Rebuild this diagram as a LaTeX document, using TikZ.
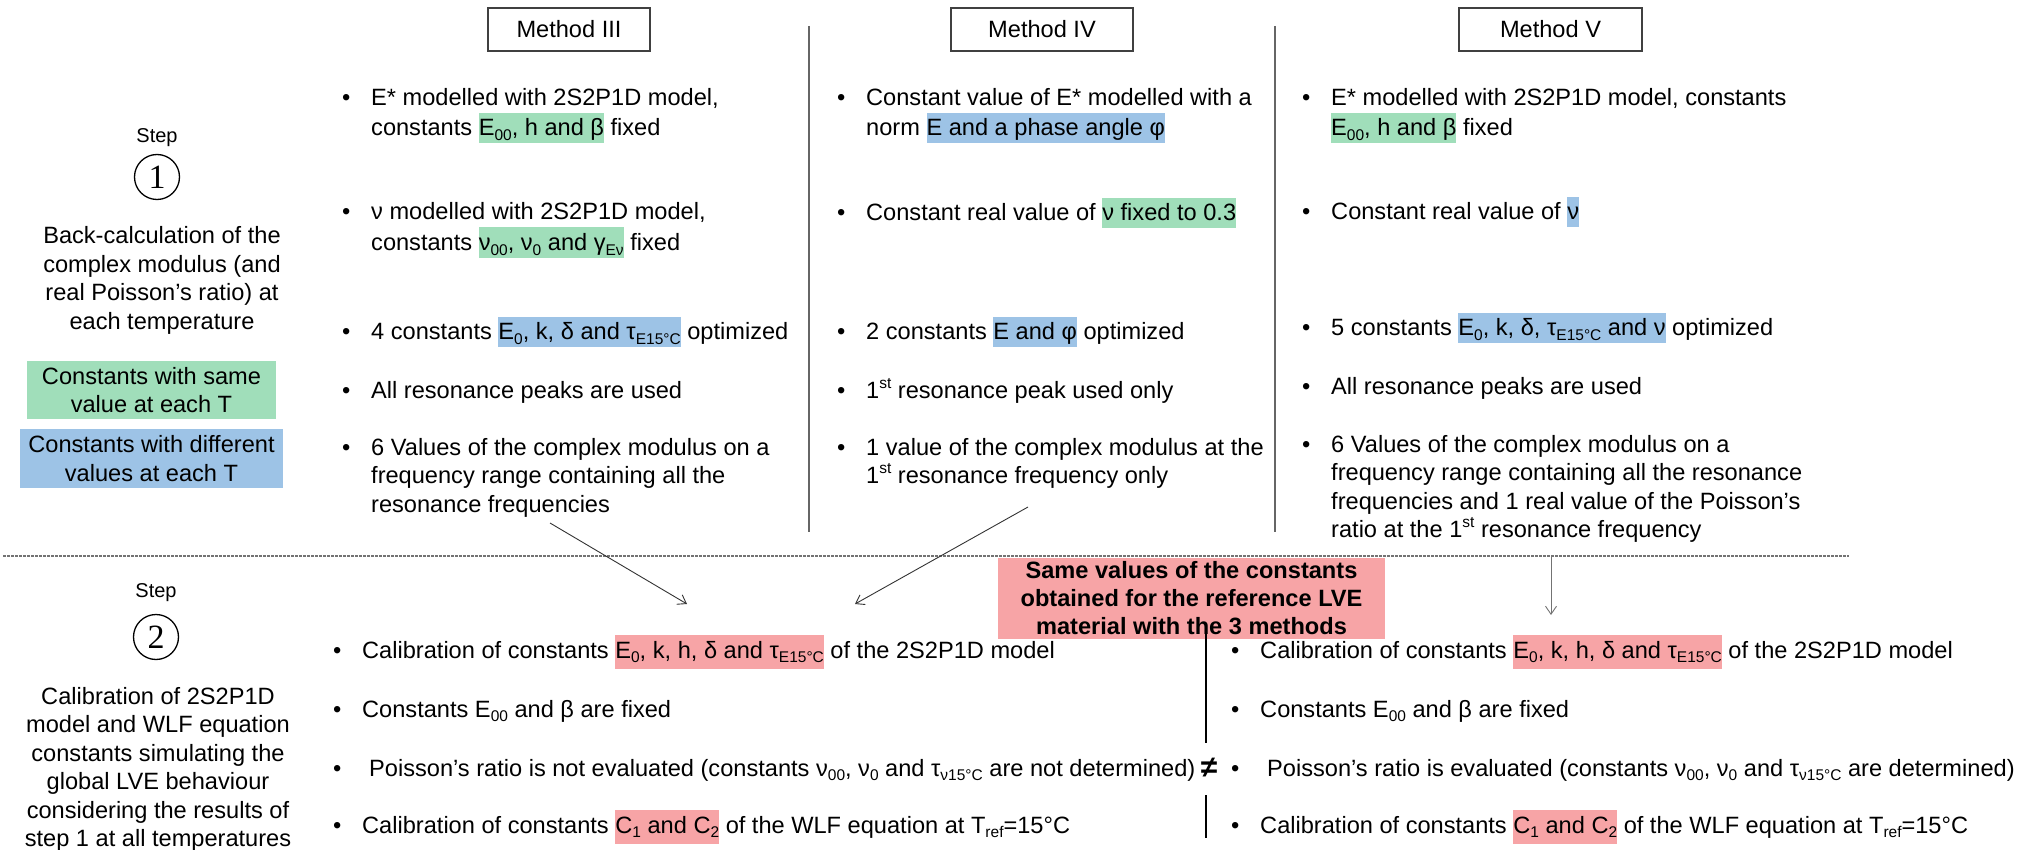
\documentclass[tikz,border=0pt]{standalone}
\usepackage{fontspec}
\setmainfont{Liberation Sans}
\newfontfamily\seriffont{Liberation Serif}
\usetikzlibrary{arrows.meta}
\definecolor{hlgreen}{RGB}{160,222,186}
\definecolor{hlblue}{RGB}{157,195,230}
\definecolor{hlred}{RGB}{247,164,166}
\newcommand\hlx[3]{{\setlength\fboxsep{0pt}\colorbox{#1}{\rule[-#2]{0pt}{\dimexpr 0.98em+#2\relax}#3}}}
\newcommand\hg[1]{\hlx{hlgreen}{0.3em}{#1}}
\newcommand\hb[1]{\hlx{hlblue}{0.3em}{#1}}
\newcommand\hr[1]{\hlx{hlred}{0.45em}{#1}}
\newcommand\sbs[1]{\raisebox{-0.2em}{\fontsize{15.5}{15.5}\selectfont #1}}
\newcommand\sps[1]{\raisebox{0.42em}{\fontsize{15.5}{15.5}\selectfont #1}}
\newcommand\ctr[1]{\vtop{\halign{\hfil##\hfil\cr #1\crcr}}}
\newcommand\bul[4]{%
  \node[bulstyle] (#1b) at (#2,#3) {•};
  \node[txt] (#1) at ({#2+29},#3) {#4};}
\begin{document}
\begin{tikzpicture}[x=1pt,y=-1pt,
  font=\fontsize{23.6}{28.5}\selectfont,
  txt/.style={anchor=base west, inner sep=0pt},
  bulstyle/.style={anchor=base west, inner sep=0pt},
  mbox/.style={draw=black!75, line width=1.2pt, minimum height=43pt, inner sep=0pt},
  sepline/.style={draw=black!60, line width=1.3pt},
  conn/.style={draw=black!80, line width=0.9pt, -{Straight Barb[length=8pt,width=11pt]}},
  stepl/.style={font=\fontsize{20}{24}\selectfont, inner sep=0pt},
  stepc/.style={circle, draw, line width=1.3pt, minimum size=45pt, inner sep=0pt, font=\seriffont\fontsize{34}{34}\selectfont},
  legend/.style={inner sep=0pt, align=center}]
\useasboundingbox (0,0) rectangle (2030,850);

% method headers
\node[mbox, minimum width=162pt] (m3) at (569,29.5) {Method III};
\node[mbox, minimum width=182pt] (m4) at (1042,29.5) {Method IV};
\node[mbox, minimum width=183pt] (m5) at (1550.5,29.5) {Method V};

% separators
\coordinate (s1t) at (809,26); \coordinate (s1b) at (809,532);
\coordinate (s2t) at (1275,26); \coordinate (s2b) at (1275,532);
\draw[sepline] (s1t) -- (s1b);
\draw[sepline] (s2t) -- (s2b);

% dashed divider
\coordinate (dl) at (3,556); \coordinate (dr) at (1849,556);
\draw[black!55, line width=1.2pt, dash pattern=on 2.5pt off 1.5pt] (dl) -- (dr);

% step 1 left
\node[stepl] (st1l) at (157,138) {Step};
\node[stepc] (st1) at (157,177) {1};
\node[inner sep=0pt, anchor=base] (d1) at (162,244) {\ctr{Back-calculation of the\cr complex modulus (and\cr real Poisson’s ratio) at\cr each temperature}};
\node[legend, fill=hlgreen, minimum width=249pt, minimum height=58pt] (lg) at (151.5,390) {Constants with same\\value at each T};
\node[legend, fill=hlblue, minimum width=263pt, minimum height=59pt] (lb) at (151.5,458.5) {Constants with different\\values at each T};

% Method III
\bul{a1}{342}{106}{\vtop{\hbox{E* modelled with 2S2P1D model,}\vskip1.5pt\hbox{constants \hg{E\sbs{00}, h and β} fixed}}}
\bul{a2}{342}{220}{\vtop{\hbox{ν modelled with 2S2P1D model,}\vskip2pt\hbox{constants \hg{ν\sbs{00}, ν\sbs{0} and γ\sbs{Eν}} fixed}}}
\bul{a3}{342}{340}{4 constants \hb{E\sbs{0}, k, δ and τ\sbs{E15°C}} optimized}
\bul{a4}{342}{398}{All resonance peaks are used}
\bul{a5}{342}{455}{\vtop{\hbox{6 Values of the complex modulus on a}\hbox{frequency range containing all the}\hbox{resonance frequencies}}}

% Method IV
\bul{b1}{837}{106}{\vtop{\hbox{Constant value of E* modelled with a}\vskip1.5pt\hbox{norm \hb{E and a phase angle φ}}}}
\bul{b2}{837}{221}{Constant real value of \hg{ν fixed to 0.3}}
\bul{b3}{837}{340}{2 constants \hb{E and φ} optimized}
\bul{b4}{837}{398}{1\sps{st} resonance peak used only}
\bul{b5}{837}{455}{\vtop{\hbox{1 value of the complex modulus at the}\hbox{1\sps{st} resonance frequency only}}}

% Method V
\bul{v1}{1302}{106}{\vtop{\hbox{E* modelled with 2S2P1D model, constants}\vskip1.5pt\hbox{\hg{E\sbs{00}, h and β} fixed}}}
\bul{v2}{1302}{220}{Constant real value of \hb{ν}}
\bul{v3}{1302}{336}{5 constants \hb{E\sbs{0}, k, δ, τ\sbs{E15°C} and ν} optimized}
\bul{v4}{1302}{395}{All resonance peaks are used}
\bul{v5}{1302}{452}{\vtop{\hbox{6 Values of the complex modulus on a}\hbox{frequency range containing all the resonance}\hbox{frequencies and 1 real value of the Poisson’s}\hbox{ratio at the 1\sps{st} resonance frequency}}}

% arrows into step 2
\coordinate (a3s) at (550,523); \coordinate (a3e) at (687,604);
\coordinate (a4s) at (1028,507); \coordinate (a4e) at (855,604);
\coordinate (a5s) at (1551,556); \coordinate (a5e) at (1551,615);
\draw[conn] (a3s) -- (a3e);
\draw[conn] (a4s) -- (a4e);
\draw[conn, draw=black!55] (a5s) -- (a5e);

% step 2 left
\node[stepl] (st2l) at (156,593) {Step};
\node[stepc] (st2) at (156,637) {2};
\node[inner sep=0pt, anchor=base] (d2) at (158,704) {\ctr{Calibration of 2S2P1D\cr model and WLF equation\cr constants simulating the\cr global LVE behaviour\cr considering the results of\cr step 1 at all temperatures}};

% red common box
\node[fill=hlred, minimum width=387pt, minimum height=81pt, inner sep=0pt, align=center,
      font=\bfseries\fontsize{23.6}{28}\selectfont] (same) at (1191.5,598.5)
      {Same values of the constants\\obtained for the reference LVE\\material with the 3 methods};

% middle separator with not-equal sign
\coordinate (ma) at (1206,632); \coordinate (mb) at (1206,743);
\coordinate (mc) at (1206,795); \coordinate (md) at (1206,838);
\draw[black, line width=1.3pt] (ma) -- (mb);
\draw[black, line width=1.3pt] (mc) -- (md);
\node[inner sep=0pt, font=\bfseries\fontsize{30}{30}\selectfont] (ne) at (1209,768) {≠};

% step 2 bullets left
\bul{l1}{333}{658}{Calibration of constants \hr{E\sbs{0}, k, h, δ and τ\sbs{E15°C}} of the 2S2P1D model}
\bul{l2}{333}{717}{Constants E\sbs{00} and β are fixed}
\bul{l3}{333}{776}{\hspace{7pt}Poisson’s ratio is not evaluated (constants ν\sbs{00}, ν\sbs{0} and τ\sbs{ν15°C} are not determined)}
\bul{l4}{333}{833}{Calibration of constants \hr{C\sbs{1} and C\sbs{2}} of the WLF equation at T\sbs{ref}=15°C}

% step 2 bullets right
\bul{r1}{1231}{658}{Calibration of constants \hr{E\sbs{0}, k, h, δ and τ\sbs{E15°C}} of the 2S2P1D model}
\bul{r2}{1231}{717}{Constants E\sbs{00} and β are fixed}
\bul{r3}{1231}{776}{\hspace{7pt}Poisson’s ratio is evaluated (constants ν\sbs{00}, ν\sbs{0} and τ\sbs{ν15°C} are determined)}
\bul{r4}{1231}{833}{Calibration of constants \hr{C\sbs{1} and C\sbs{2}} of the WLF equation at T\sbs{ref}=15°C}
\end{tikzpicture}
\end{document}
